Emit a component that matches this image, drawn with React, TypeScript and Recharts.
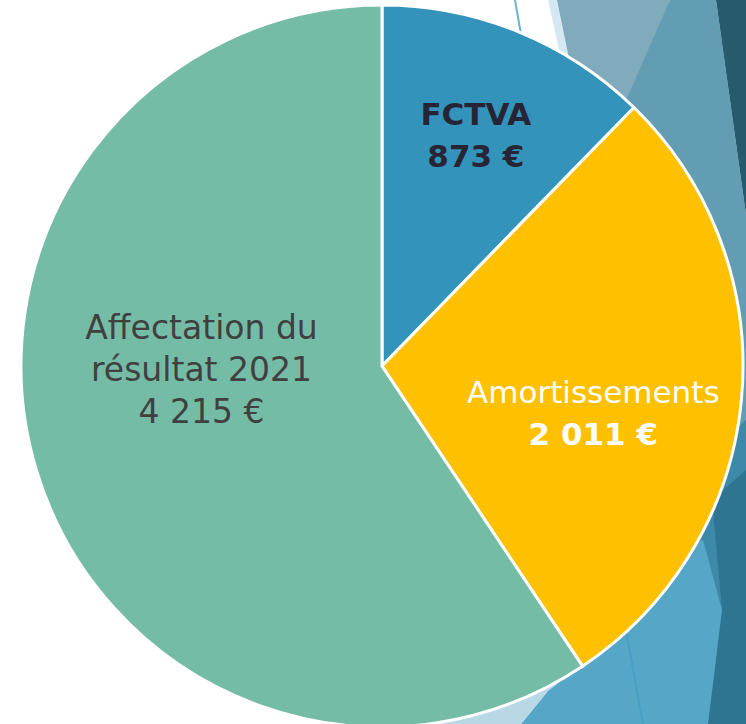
import React from "react";
import { PieChart, Pie, Cell } from "recharts";

const categories = ["FCTVA", "Amortissements", "Affectation du résultat 2021"];
const values = [873, 2011, 4215];
const valueLabels = ["873 €", "2 011 €", "4 215 €"];
const nameLines = [["FCTVA"], ["Amortissements"], ["Affectation du", "résultat 2021"]];
const colors = ["#3493BA", "#FFC000", "#75BCA7"];
const textColors = ["#252535", "#FFFFFF", "#404040"];
const nameBold = [true, false, false];
const valueBold = [true, true, false];
// label placement: [radius fraction, angle offset in degrees]
const labelPlacement: [number, number][] = [
  [0.69, 0],
  [0.6, -7.4],
  [0.5, -15.8],
];

const data = categories.map((c, i) => ({ name: c, value: values[i] }));

const RAD = Math.PI / 180;
const FONT = "'DejaVu Sans', sans-serif";

const renderLabel = (props: any) => {
  const { cx, cy, midAngle, outerRadius, index } = props;
  const [rf, off] = labelPlacement[index];
  const a = (midAngle + off) * RAD;
  const x = cx + outerRadius * rf * Math.cos(a);
  const y = cy - outerRadius * rf * Math.sin(a);
  const lines = [...nameLines[index], valueLabels[index]];
  const lh = 42;
  const startY = y - ((lines.length - 1) * lh) / 2;
  return (
    <text
      x={x}
      y={startY}
      textAnchor="middle"
      dominantBaseline="central"
      fill={textColors[index]}
      fontFamily={FONT}
      fontSize={index === 2 ? 33 : 31}
    >
      {lines.map((l, i) => {
        const isValue = i === lines.length - 1;
        const bold = isValue ? valueBold[index] : nameBold[index];
        return (
          <tspan key={i} x={x} dy={i === 0 ? 0 : lh} fontWeight={bold ? "bold" : "normal"}>
            {l}
          </tspan>
        );
      })}
    </text>
  );
};

const Background = () => (
  <svg width={746} height={724} style={{ position: "absolute", left: 0, top: 0 }}>
    <rect x={0} y={0} width={746} height={724} fill="#FFFFFF" />
    <polygon points="548,0 557,0 580,90 568,90" fill="#D5E7F0" />
    <polygon points="557,0 670,0 620,160 590,160" fill="#7FABBD" />
    <polygon points="670,0 716,0 746,215 746,500 690,500 600,160" fill="#629DB4" />
    <polygon points="716,0 746,0 746,215" fill="#265A6D" />
    <polygon points="690,470 746,420 746,724 600,724 600,560" fill="#3D89A9" />
    <polygon points="712,500 746,470 746,724 705,724 722,610" fill="#2E7592" />
    <polygon points="560,600 703,540 722,610 708,724 521,724 547,692" fill="#56A6C7" />
    <polygon points="400,724 600,650 547,692 521,724" fill="#B8D8E6" />
    <line x1={625} y1={625} x2={643} y2={724} stroke="#47A0C4" strokeWidth={2} />
    <line x1={515} y1={0} x2={522} y2={40} stroke="#6FB0CC" strokeWidth={2} />
  </svg>
);

export default function App() {
  return (
    <div
      style={{
        position: "absolute",
        left: 0,
        top: 0,
        width: 746,
        height: 724,
        overflow: "hidden",
      }}
    >
      <Background />
      <div style={{ position: "absolute", left: 0, top: 0 }}>
        <PieChart width={746} height={724} margin={{ top: 0, right: 0, bottom: 0, left: 0 }}>
          <Pie
            data={data}
            dataKey="value"
            nameKey="name"
            cx={382}
            cy={366}
            outerRadius={361}
            startAngle={90}
            endAngle={-270}
            stroke="#FFFFFF"
            strokeWidth={3}
            labelLine={false}
            label={renderLabel}
            isAnimationActive={false}
          >
            {data.map((d, i) => (
              <Cell key={d.name} fill={colors[i]} />
            ))}
          </Pie>
        </PieChart>
      </div>
    </div>
  );
}
